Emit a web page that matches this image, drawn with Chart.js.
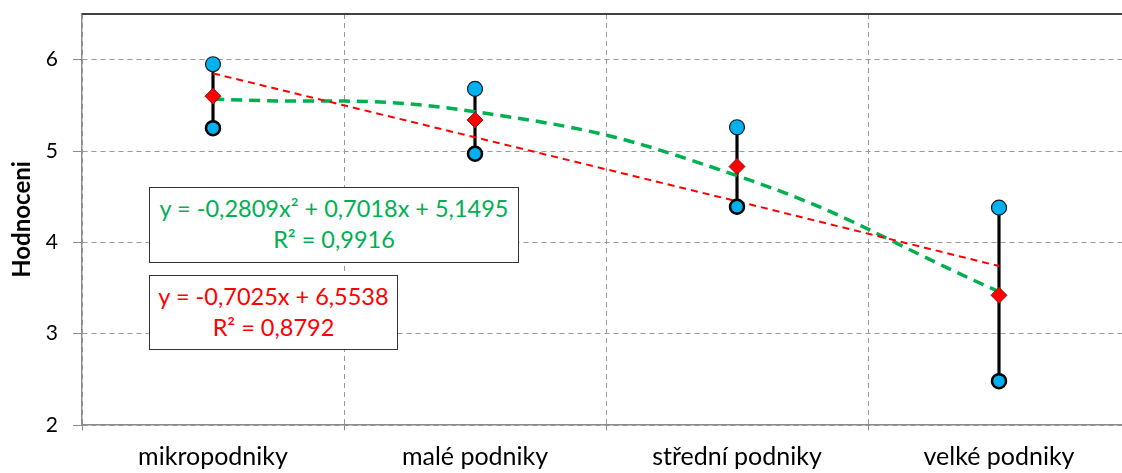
<!DOCTYPE html>
<html>
<head>
<meta charset="utf-8">
<script src="https://cdn.jsdelivr.net/npm/chart.js@4"></script>
<style>
  body { margin: 0; overflow: hidden; background: #fff; }
  #wrap { position: relative; width: 1140px; height: 473px; }
  .eq {
    position: absolute; border: 1.5px solid #333; background: #fff;
    font-family: Lato, sans-serif; font-size: 23.5px; line-height: 31px;
    text-align: center; box-sizing: border-box; padding-top: 5px;
  }
</style>
</head>
<body>
<div id="wrap">
  <canvas id="graf" width="1140" height="473"></canvas>
  <div class="eq" style="left:149px;top:187px;width:370px;height:76px;color:#00b050">
    y = -0,2809x² + 0,7018x + 5,1495<br>R² = 0,9916
  </div>
  <div class="eq" style="left:149px;top:275px;width:249px;height:75px;color:#ff0000">
    y = -0,7025x + 6,5538<br>R² = 0,8792
  </div>
</div>
<script>
const kategorie = ['mikropodniky', 'malé podniky', 'střední podniky', 'velké podniky']
const maxima = [5.95, 5.68, 5.26, 4.38]
const minima = [5.25, 4.97, 4.39, 2.48]
const prumery = [5.6, 5.34, 4.83, 3.42]
// hodnoty trendu
const trendLin = [5.85, 5.15, 4.45, 3.74]
const trendPoly = [5.57, 5.43, 4.73, 3.46]
const yTicks = [2, 3, 4, 5, 6]

const pismo = 'Lato, sans-serif'

const ramecek = {
    id: 'ramecek',
    afterDraw(c) {
        const a = c.chartArea
        const ctx = c.ctx
        ctx.save()
        ctx.strokeStyle = '#404040'
        ctx.lineWidth = 2
        ctx.beginPath()
        ctx.moveTo(a.left, a.top)
        ctx.lineTo(a.right + 10, a.top)
        ctx.stroke()
        ctx.restore()
    }
}

new Chart(document.getElementById('graf'), {
    type: 'line',
    data: {
        labels: kategorie,
        datasets: [
            {
                type: 'bar',
                label: 'rozpětí',
                data: kategorie.map((k, i) => [minima[i], maxima[i]]),
                backgroundColor: '#000',
                barThickness: 2.5,
                order: 5
            },
            {
                label: 'lineární trend',
                data: trendLin,
                borderColor: '#ff0000',
                borderWidth: 2,
                borderDash: [7, 5],
                pointRadius: 0,
                order: 3
            },
            {
                label: 'polynomický trend',
                data: trendPoly,
                borderColor: '#00b050',
                borderWidth: 3.5,
                borderDash: [11, 7],
                tension: 0.45,
                pointRadius: 0,
                order: 4
            },
            {
                label: 'max',
                data: maxima,
                showLine: false,
                pointRadius: 7.5,
                pointBackgroundColor: '#00b0f0',
                pointBorderColor: '#1a1a1a',
                pointBorderWidth: 1.2,
                order: 1
            },
            {
                label: 'min',
                data: minima,
                showLine: false,
                pointRadius: 7,
                pointBackgroundColor: '#00b0f0',
                pointBorderColor: '#000',
                pointBorderWidth: 2.5,
                order: 1
            },
            {
                label: 'průměr',
                data: prumery,
                showLine: false,
                pointStyle: 'rectRot',
                pointRadius: 8,
                pointBackgroundColor: '#ff0000',
                pointBorderColor: '#7f1f1f',
                pointBorderWidth: 1,
                order: 0
            }
        ]
    },
    options: {
        responsive: false,
        animation: false,
        layout: { padding: { top: 14, left: 8, right: 10, bottom: 0 } },
        plugins: { legend: { display: false }, tooltip: { enabled: false } },
        scales: {
            x: {
                offset: true,
                grid: {
                    offset: true,
                    color: '#999',
                    tickLength: 9,
                    tickColor: '#8c8c8c',
                    tickBorderDash: [5, 4]
                },
                border: { color: '#8c8c8c', width: 1.5, dash: [5, 4] },
                ticks: { color: '#000', font: { family: pismo, size: 25 }, padding: 8 },
                afterFit: s => { s.height = 48; s.paddingLeft = 0; s.paddingRight = 0 }
            },
            y: {
                min: 2,
                max: 6.5,
                ticks: { stepSize: 1, color: '#000', font: { family: pismo, size: 21 }, padding: 15 },
                afterBuildTicks: s => { s.ticks = yTicks.map(v => ({ value: v })) },
                grid: {
                    color: '#999',
                    tickLength: 9,
                    tickColor: '#8c8c8c',
                    tickBorderDash: []
                },
                border: { color: '#8c8c8c', width: 1.5, dash: [5, 4] },
                title: {
                    display: true,
                    text: 'Hodnoceni',
                    color: '#000',
                    font: { family: pismo, size: 24, weight: 'bold' },
                    padding: 0
                },
                afterFit: s => { s.width = 74; s.paddingTop = 0; s.paddingBottom = 0 }
            }
        }
    },
    plugins: [ramecek]
})
</script>
</body>
</html>
